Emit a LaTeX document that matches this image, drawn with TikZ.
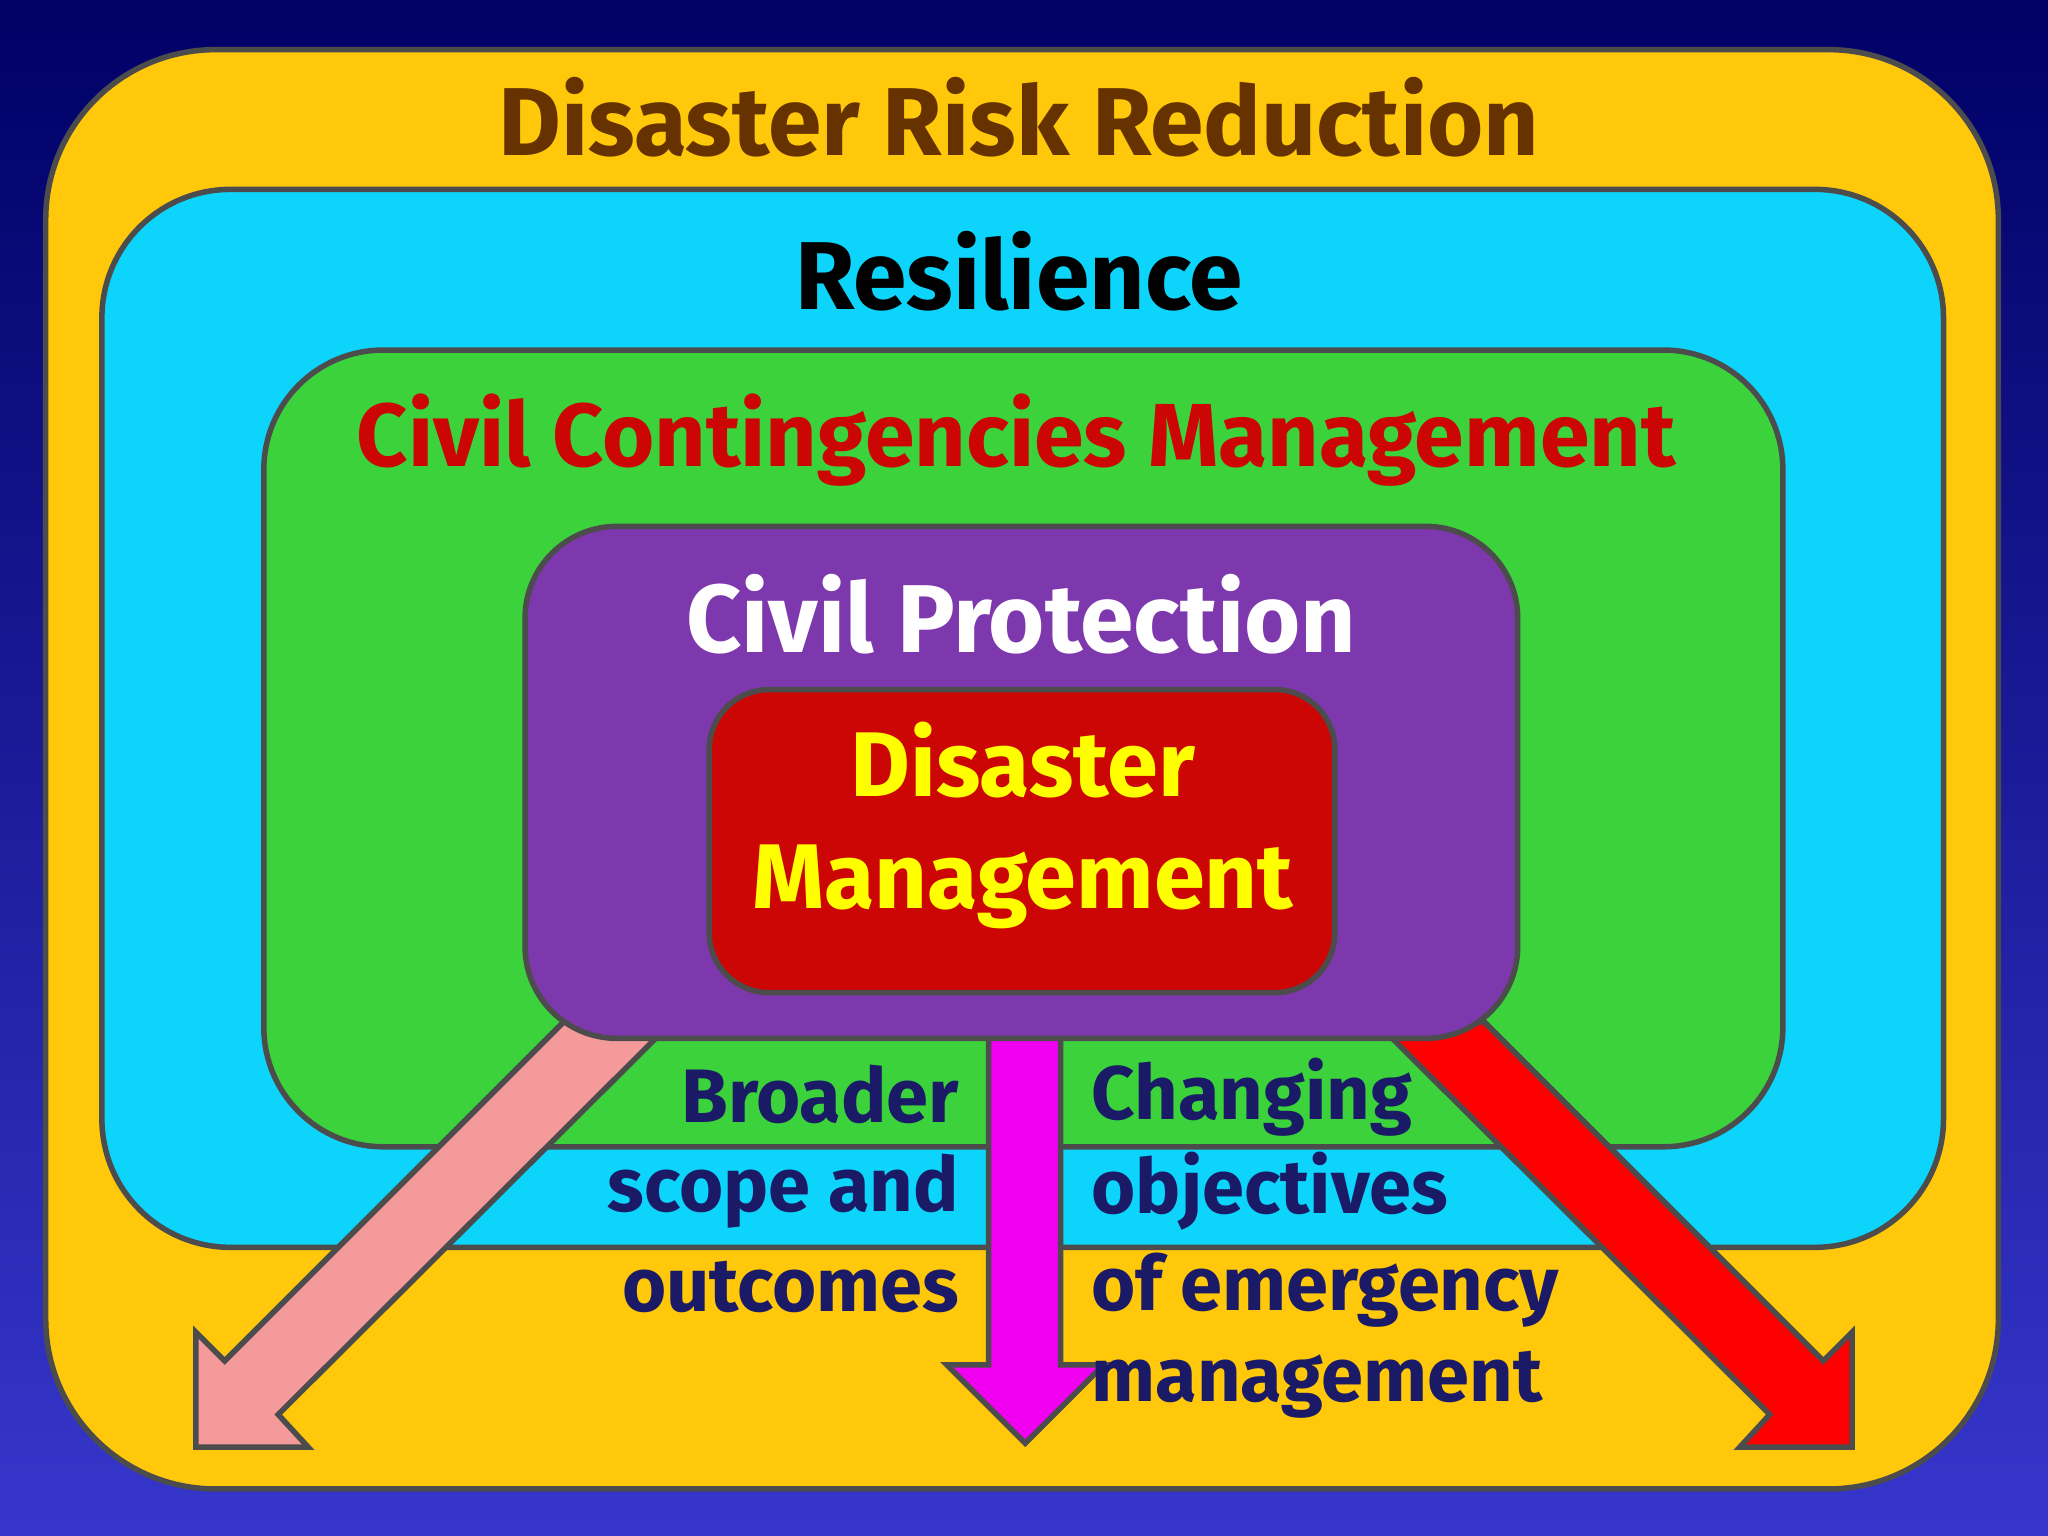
\documentclass[tikz,border=0pt]{standalone}
\usepackage{fontspec}
\setmainfont{Fira Sans}
\begin{document}
\begin{tikzpicture}[x=0.01cm,y=-0.01cm,
  box/.style={draw=black!70,line width=1.2pt},
  ttl/.style={font=\fontsize{21}{25}\selectfont\bfseries},
  side/.style={font=\fontsize{16.5}{19}\selectfont\bfseries,text=navytxt,inner sep=0pt}]
\definecolor{bgtop}{HTML}{000066}\definecolor{bgbot}{HTML}{3636CC}
\definecolor{gold}{HTML}{FFC80A}\definecolor{cy}{HTML}{0CD4FA}
\definecolor{gr}{HTML}{3CD23C}\definecolor{pu}{HTML}{7D38AE}
\definecolor{rd}{HTML}{CC0505}\definecolor{brn}{HTML}{663300}
\definecolor{navytxt}{HTML}{1A1A66}\definecolor{pk}{HTML}{F59A9A}
\definecolor{mg}{HTML}{F000F0}\definecolor{ylw}{HTML}{FFFF00}
\shade[top color=bgtop,bottom color=bgbot] (0,0) rectangle (1568,1176);
\useasboundingbox (0,0) rectangle (1568,1176);
\draw[box,fill=gold,rounded corners=37pt] (35,38) rectangle (1530,1140);
\draw[box,fill=cy,rounded corners=28pt] (78,145) rectangle (1488,955);
\draw[box,fill=gr,rounded corners=26pt] (202,268) rectangle (1365,878);
% arrows
\draw[box,fill=pk] (432,782)--(502,795)--(213,1083)--(236,1108)--(150,1108)--(150,1020)--(172,1042)--cycle;
\draw[box,fill=red] (1136,782)--(1066,795)--(1355,1083)--(1332,1108)--(1418,1108)--(1418,1020)--(1396,1042)--cycle;
\draw[box,fill=mg] (757,790)--(812,790)--(812,1045)--(845,1045)--(785,1105)--(725,1045)--(757,1045)--cycle;
\draw[box,fill=pu,rounded corners=20pt] (402,403) rectangle (1162,795);
\draw[box,fill=rd,rounded corners=13pt] (543,528) rectangle (1022,760);
\node[ttl,text=brn] (drr) at (780,90) {Disaster Risk Reduction};
\node[ttl,text=black] (res) at (780,208) {Resilience};
\node[ttl,text=rd,font=\fontsize{19.5}{24}\selectfont\bfseries] (ccm) at (778,337) {Civil Contingencies Management};
\node[ttl,text=white] (cp) at (782,470) {Civil Protection};
\node[ttl,text=ylw,align=center,font=\fontsize{20}{24.5}\selectfont\bfseries] (dm) at (783,632) {Disaster\\Management};
\node[side,anchor=east] (l1) at (735,838) {Broader};
\node[side,anchor=east] (l2) at (735,912) {scope and};
\node[side,anchor=east] (l3) at (735,985) {outcomes};
\node[side,anchor=west] (r1) at (835,840) {Changing};
\node[side,anchor=west] (r2) at (835,912) {objectives};
\node[side,anchor=west] (r3) at (835,988) {of emergency};
\node[side,anchor=west] (r4) at (835,1060) {management};
\end{tikzpicture}
\end{document}
